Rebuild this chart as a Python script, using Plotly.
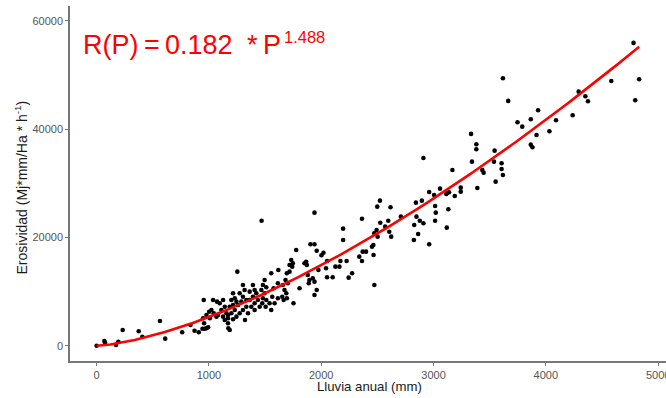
import numpy as np
import plotly.graph_objects as go

# Observed stations: annual rainfall (mm) and erosivity
lluvia = [
    0, 69, 75, 173, 194, 232, 375, 407, 564, 611, 762, 836, 872, 910, 943, 963, 978, 993, 957,
    1170, 1173, 1185, 1321, 1215, 1141,
    1469, 1940, 1253, 1777, 1904, 1940, 1960, 2020, 2002, 2052, 2043, 2052, 1975, 1925, 1940,
    1960, 1940, 1889, 1895, 1880, 1866, 1872, 1851, 1807, 1753, 1733, 1747, 1718, 1742, 1718,
    1694, 1682, 1703, 1659, 1673, 1689, 1653, 1665, 1694, 1618, 1555, 1614, 1576, 1564, 1614,
    1585, 1555, 1496, 1481, 1511, 1467, 1496, 1481, 1511, 1540, 1505, 1475, 1392, 1407, 1363,
    1422, 1392, 1436, 1363, 1407, 1452, 1378, 1407, 1303, 1318, 1274, 1303, 1333, 1289, 1259,
    1333, 1303, 1274, 1348, 1215, 1230, 1200, 1245, 1215, 1185, 1230, 1200, 1170, 1245, 1126,
    1096, 1141, 1111, 1156, 1081, 1126, 1170, 1037, 1072, 954, 1022, 1002, 1043, 978, 1067,
    948, 1008,
    2910, 2523, 2499, 2617, 2363, 2195, 2195, 2526, 2597, 2570, 2606, 2623, 2709, 2472, 2493,
    2502, 2464, 2452, 2466, 2369, 2399, 2339, 2363, 2226, 2171, 2162, 2126, 2843, 2896, 2848,
    2878, 2910, 2828, 2863, 2825, 2961, 2961, 3005, 3014, 3020, 3014, 3118,
    3618, 3665, 3931, 3748, 3790, 3866, 4091, 4032, 3917, 3866, 3881, 3334, 3381, 3381, 3544,
    3538, 3606, 3606, 3618, 3553, 3342, 3434, 3446, 3168, 3058, 3123, 3138, 3114, 3189, 3242,
    3242, 3390, 3132,
    4239, 4292, 4352, 4375, 4583, 4781, 4796, 4831,
    2473, 2244, 2275, 2102,
]
erosividad = [
    0, 870, 560, 130, 740, 2900, 2660, 1660, 4560, 1300, 2470, 3820, 2770, 2470, 3140, 3140,
    3210, 3400, 4140, 4140, 3210, 2900, 4750, 4870, 4750,
    23080, 24560, 13670, 17670, 18720, 18720, 17540, 17170, 16690, 15640, 14290, 12630, 13980,
    12450, 11820, 10290, 9360, 11520, 12130, 13060, 15510, 14900, 15210, 10600, 7830, 15830,
    15210, 14900, 14590, 13670, 13370, 12130, 11520, 11210, 10290, 9680, 9050, 8440, 8750,
    13980, 13370, 11520, 10600, 9050, 8750, 7830, 6590, 12130, 11210, 10780, 10290, 9680,
    8750, 8440, 7830, 7200, 7830, 11210, 10290, 9980, 9680, 9050, 8440, 8440, 7830, 7200, 7200,
    6590, 11210, 10290, 9680, 9050, 8440, 8130, 7520, 7200, 6590, 5980, 5980, 9680, 8750, 8440,
    8130, 7520, 7200, 6590, 5980, 5670, 5360, 8440, 7830, 7200, 6590, 5980, 5670, 5360, 5060,
    8440, 8130, 8440, 6590, 6280, 5980, 5670, 5360, 5060, 5060,
    34660, 26780, 25670, 25560, 23450, 21610, 19520, 22710, 23080, 21980, 21050, 20130, 23820,
    20760, 21370, 20130, 18600, 18280, 16750, 17360, 17360, 16440, 15640, 15640, 15640, 14590,
    14590, 26410, 26780, 23820, 23080, 22600, 22290, 20630, 19520, 18720, 28380, 27830, 25800,
    24560, 23080, 21790,
    49380, 45190, 43470, 41260, 40440, 41800, 41620, 39590, 38910, 37120, 36640, 39100, 37190,
    36270, 36010, 33980, 33680, 32630, 31520, 30290, 33980, 32450, 31950, 32450, 28990, 28250,
    28330, 28010, 27650, 29180, 28440, 29120, 25190,
    42550, 46900, 46060, 45130, 48880, 55900, 45320, 49200,
    11210, 12560, 13370, 12630,
]

# Fitted power model shown on the chart: R(P) = a * P^b
coef_a = 0.182
coef_b = 1.488
lluvia_fit_max = 4831

x_ticks = [0, 1000, 2000, 3000, 4000, 5000]
y_ticks = [0, 20000, 40000, 60000]

x_fit = np.linspace(0, lluvia_fit_max, 200)
y_fit = coef_a * x_fit ** coef_b

W, H = 666, 398
L, R, T, B = 70, 0, 6, 37
pw, ph = W - L - R, H - T - B

def px(xp):
    return (xp - L) / pw

def py(yp):
    return 1 - (yp - T) / ph

fig = go.Figure()
fig.add_trace(go.Scatter(
    x=lluvia, y=erosividad, mode="markers",
    marker=dict(color="black", size=4.6, line=dict(width=0)),
    hoverinfo="x+y", showlegend=False,
))
fig.add_trace(go.Scatter(
    x=x_fit, y=y_fit, mode="lines",
    line=dict(color="#ff0000", width=2.6),
    showlegend=False, hoverinfo="skip",
))

axis_common = dict(
    showgrid=False, zeroline=False, showline=True, linecolor="#777777", linewidth=1.5,
    ticks="outside", ticklen=3, tickwidth=1.2, tickcolor="#777777", automargin=False,
    ticklabeloverflow="allow",
    tickfont=dict(family="Liberation Sans, Arial, sans-serif", size=11, color="#555555"),
)
fig.update_xaxes(range=[-237, 5070], tickvals=x_ticks, ticktext=[str(v) for v in x_ticks],
                 **axis_common)
fig.update_yaxes(range=[-2825, 62714], tickvals=y_ticks, ticktext=[str(v) for v in y_ticks],
                 **axis_common)

eq_font = "Liberation Sans, Arial, sans-serif"
eq_parts = [("R(P)", 110.5, 44.7, 27), ("=", 151.5, 44.7, 27), ("0.182", 199.2, 44.7, 27),
            ("*", 252.5, 44.7, 27), ("P", 272.0, 44.7, 27), ("1.488", 304.5, 37.0, 16.5)]
annotations = []
for txt, xc, yc, fs in eq_parts:
    annotations.append(dict(text=txt, x=px(xc), y=py(yc), xanchor="center", yanchor="middle",
                            showarrow=False, font=dict(family=eq_font, size=fs, color="#ff0000")))
annotations += [
    dict(text="Lluvia anual (mm)", x=px(369.5), y=py(387), xanchor="center", yanchor="middle",
         showarrow=False, font=dict(family="Liberation Sans, Arial, sans-serif", size=13.2,
                                    color="#1a1a1a")),
    dict(text="Erosividad (Mj*mm/Ha * h<sup>-1</sup>)", x=px(21.5), y=py(188), textangle=-90,
         xanchor="center", yanchor="middle", showarrow=False,
         font=dict(family="Liberation Sans, Arial, sans-serif", size=14, color="#1a1a1a")),
]
for a in annotations:
    a.update(xref="paper", yref="paper")

fig.update_layout(
    width=W, height=H, margin=dict(l=L, r=R, t=T, b=B, pad=0),
    paper_bgcolor="white", plot_bgcolor="white",
    annotations=annotations, showlegend=False,
)

fig.write_html("out.html", config={"displayModeBar": False},
               post_script="document.body.style.margin='0px';")
